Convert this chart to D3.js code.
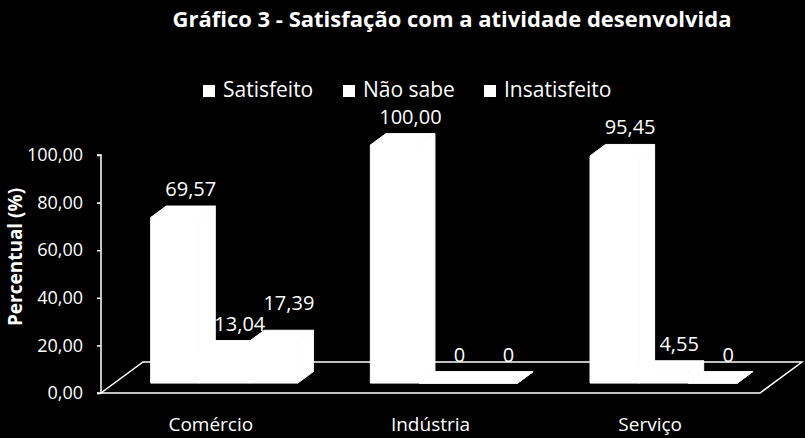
<!DOCTYPE html>
<html>
<head>
<meta charset="utf-8">
<script src="https://cdn.jsdelivr.net/npm/d3@7"></script>
<style>
  body { margin: 0; background: #000; }
  text { fill: #fff; font-family: "Open Sans", sans-serif; }
</style>
</head>
<body>
<div id="viz"></div>
<script>
// data
var categories = ['Comércio', 'Indústria', 'Serviço'];
var series = ['Satisfeito', 'Não sabe', 'Insatisfeito'];
var satisfeito = [69.57, 100.00, 95.45];
var naoSabe = [13.04, 0, 4.55];
var insatisfeito = [17.39, 0, 0];
var yTicks = [0, 20, 40, 60, 80, 100];

var width = 805,
    height = 438,
    depthX = 42,   // full floor depth, projected
    depthY = -31,
    d0 = 0.32,     // bar depth, as part of the floor depth
    d1 = 0.69;

var rows = [satisfeito, naoSabe, insatisfeito];

var pt = d3.formatLocale({decimal: ',', thousands: '.', grouping: [3], currency: ['', '']});
var fmt2 = pt.format('.2f');

var svg = d3.select('#viz').append('svg')
    .attr('width', width)
    .attr('height', height)
    .style('background', '#000');

var yScale = d3.scaleLinear()
    .domain([0, 100])
    .range([393, 155]);

var xScale = d3.scaleBand()
    .domain(categories)
    .range([101, 760]);

var groupWidth = xScale.bandwidth() * 0.67;

var xInner = d3.scaleBand()
    .domain(series)
    .range([0, groupWidth]);

function proj(x, v, d) {
    return [x + d * depthX, yScale(v) + d * depthY];
}

// floor
var floor = [proj(101, 0, 0), proj(760, 0, 0), proj(760, 0, 1), proj(101, 0, 1)];
svg.append('polygon')
    .attr('points', floor.map(function(p){ return p.join(','); }).join(' '))
    .attr('fill', 'none')
    .attr('stroke', '#fff')
    .attr('stroke-width', 1.5);

// y axis
var yAxis = d3.axisLeft(yScale)
    .tickValues(yTicks)
    .tickSize(4)
    .tickFormat(fmt2);

var gy = svg.append('g')
    .attr('transform', 'translate(101,0)')
    .call(yAxis);
gy.select('.domain').attr('stroke', '#fff').attr('stroke-width', 1.5).attr('d', 'M-4,' + yScale(100) + 'H0V' + yScale(0) + 'H-4');
gy.selectAll('.tick line').attr('stroke', '#fff').attr('stroke-width', 1.5);
gy.selectAll('.tick text')
    .attr('x', -18)
    .style('font-size', '18px')
    .style('font-family', '"Open Sans", sans-serif')
    .attr('fill', '#fff');

// bars
var bars = [];
categories.forEach(function(c, ci){
    series.forEach(function(s, si){
        bars.push({cat: c, ser: s, v: rows[si][ci]});
    });
});

function barLeft(d) {
    return xScale(d.cat) + xScale.bandwidth() / 2 - groupWidth / 2 + xInner(d.ser);
}

function faces(b) {
    var xl = barLeft(b);
    var xr = xl + xInner.bandwidth();
    return [
        [proj(xl, 0, d0), proj(xr, 0, d0), proj(xr, b.v, d0), proj(xl, b.v, d0)],
        [proj(xl, b.v, d0), proj(xr, b.v, d0), proj(xr, b.v, d1), proj(xl, b.v, d1)],
        [proj(xr, 0, d0), proj(xr, 0, d1), proj(xr, b.v, d1), proj(xr, b.v, d0)]
    ];
}

var barG = svg.selectAll('g.bar')
    .data(bars)
    .enter().append('g')
    .attr('class', 'bar');

barG.selectAll('polygon')
    .data(function(d){ return faces(d); })
    .enter().append('polygon')
    .attr('points', function(f){ return f.map(function(p){ return p.join(','); }).join(' '); })
    .attr('fill', '#fff')
    .attr('stroke', '#fff')
    .attr('stroke-width', 1);

// value labels
var labels = svg.selectAll('text.val')
    .data(bars)
    .enter().append('text')
    .attr('class', 'val')
    .attr('text-anchor', 'middle')
    .style('font-size', '20px')
    .attr('x', function(d){ return barLeft(d) + xInner.bandwidth() / 2 + d1 * depthX; })
    .attr('y', function(d){ return yScale(d.v) + d1 * depthY - 10; })
    .text(function(d){ return d.v === 0 ? '0' : fmt2(d.v); });

// push a label up when it runs into the one before it
var prev = null;
labels.each(function(d){
    var b = this.getBBox();
    if (prev && prev.cat === d.cat &&
        b.x < prev.box.x + prev.box.width && b.y < prev.box.y + prev.box.height && b.y + b.height > prev.box.y) {
        var shift = (b.y + b.height) - prev.box.y - 6;
        d3.select(this).attr('y', +d3.select(this).attr('y') - shift);
        b = this.getBBox();
    }
    prev = {cat: d.cat, box: b};
});

// category labels
svg.selectAll('text.cat')
    .data(categories)
    .enter().append('text')
    .attr('class', 'cat')
    .attr('text-anchor', 'middle')
    .style('font-size', '19px')
    .attr('x', function(d){ return xScale(d) + xScale.bandwidth() / 2; })
    .attr('y', 431)
    .text(function(d){ return d; });

// axis title
svg.append('text')
    .attr('transform', 'translate(22,257) rotate(-90)')
    .attr('text-anchor', 'middle')
    .style('font-size', '19px')
    .style('font-weight', 'bold')
    .text('Percentual (%)');

// title
svg.append('text')
    .attr('x', 452)
    .attr('y', 27)
    .attr('text-anchor', 'middle')
    .style('font-size', '22px')
    .style('font-weight', 'bold')
    .text('Gráfico 3 - Satisfação com a atividade desenvolvida');

// legend
var legendX = [203, 343, 484];
var leg = svg.selectAll('g.leg')
    .data(series)
    .enter().append('g')
    .attr('class', 'leg')
    .attr('transform', function(d, i){ return 'translate(' + legendX[i] + ',85)'; });
leg.append('rect')
    .attr('width', 12)
    .attr('height', 12)
    .attr('fill', '#fff');
leg.append('text')
    .attr('x', 20)
    .attr('y', 12)
    .style('font-size', '21px')
    .text(function(d){ return d; });
</script>
</body>
</html>
